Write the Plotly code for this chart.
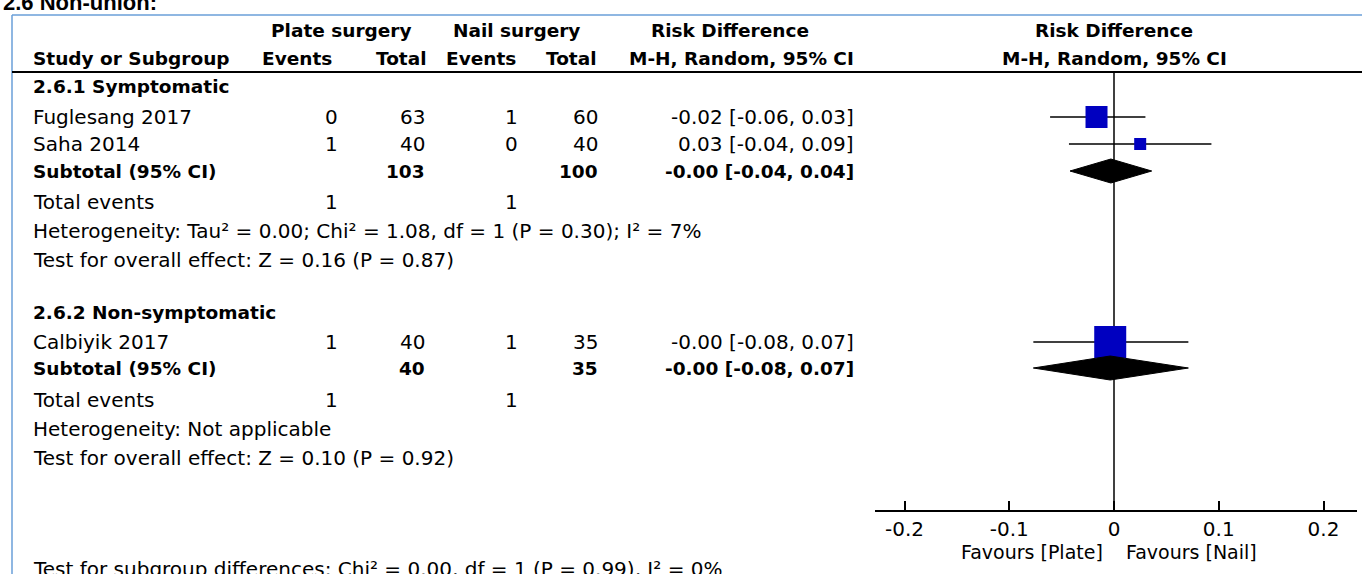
import plotly.graph_objects as go

W, H = 1362, 574

# ---------------- data ----------------
studies = ["Fuglesang 2017", "Saha 2014", "Calbiyik 2017"]
plate_events = [0, 1, 1]
plate_total = [63, 40, 40]
nail_events = [1, 0, 1]
nail_total = [60, 40, 35]
rd_est = [-0.0167, 0.025, -0.0036]
rd_lo = [-0.061, -0.043, -0.077]
rd_hi = [0.030, 0.093, 0.071]
rd_labels = ["-0.02 [-0.06, 0.03]", "0.03 [-0.04, 0.09]", "-0.00 [-0.08, 0.07]"]

subgroups = ["2.6.1 Symptomatic", "2.6.2 Non-symptomatic"]
sub_plate_total = [103, 40]
sub_nail_total = [100, 35]
sub_plate_events = [1, 1]
sub_nail_events = [1, 1]
sub_est = [-0.003, -0.0036]
sub_lo = [-0.042, -0.077]
sub_hi = [0.036, 0.071]
sub_labels = ["-0.00 [-0.04, 0.04]", "-0.00 [-0.08, 0.07]"]
heterogeneity = [
    "Heterogeneity: Tau² = 0.00; Chi² = 1.08, df = 1 (P = 0.30); I² = 7%",
    "Heterogeneity: Not applicable",
]
overall_effect = [
    "Test for overall effect: Z = 0.16 (P = 0.87)",
    "Test for overall effect: Z = 0.10 (P = 0.92)",
]
subgroup_diff = "Test for subgroup differences: Chi² = 0.00, df = 1 (P = 0.99), I² = 0%"
tick_vals = [-0.2, -0.1, 0, 0.1, 0.2]
tick_text = ["-0.2", "-0.1", "0", "0.1", "0.2"]

# ---------------- layout (pixel positions) ----------------
study_y = [117, 144, 342]
box_sizes = [22, 12, 32]
head_y = [86, 312]
subtotal_y = [171, 368]
totev_y = [202, 400]
het_y = [231, 429]
ovr_y = [260, 458]
diff_y = 569

X_STUDY, X_PE, X_PT, X_NE, X_NT, X_CI = 31, 340, 427, 520, 600, 856
FONT = "DejaVu Sans"
REG, BOLD = 20, 18.5
BLUE = "#0000c0"

ann = []


def txt(x, y, s, anchor="left", size=REG, bold=False, family=FONT):
    ann.append(dict(
        xref="paper", yref="paper", x=x / W, y=1 - y / H,
        text=f"<b>{s}</b>" if bold else s, showarrow=False,
        xanchor=anchor, yanchor="middle",
        font=dict(family=family, size=size, color="black"),
    ))


# title (cropped at top, as in the reference)
txt(1, 3, "2.6 Non-union:", bold=True, size=22, family="Liberation Sans")

# headers
txt(341, 30, "Plate surgery", "center", BOLD, True)
txt(516, 30, "Nail surgery", "center", BOLD, True)
txt(730, 30, "Risk Difference", "center", BOLD, True)
txt(1114, 30, "Risk Difference", "center", BOLD, True)
txt(X_STUDY, 58, "Study or Subgroup", "left", BOLD, True)
txt(334, 58, "Events", "right", BOLD, True)
txt(429, 58, "Total", "right", BOLD, True)
txt(518, 58, "Events", "right", BOLD, True)
txt(599, 58, "Total", "right", BOLD, True)
txt(856, 58, "M-H, Random, 95% CI", "right", BOLD, True)
txt(1114, 58, "M-H, Random, 95% CI", "center", BOLD, True)

# study rows
for i, s in enumerate(studies):
    y = study_y[i]
    txt(X_STUDY, y, s)
    txt(X_PE, y, str(plate_events[i]), "right")
    txt(X_PT, y, str(plate_total[i]), "right")
    txt(X_NE, y, str(nail_events[i]), "right")
    txt(X_NT, y, str(nail_total[i]), "right")
    txt(X_CI, y, rd_labels[i], "right")

# subgroup rows
for g, name in enumerate(subgroups):
    txt(X_STUDY, head_y[g], name, bold=True, size=BOLD)
    y = subtotal_y[g]
    txt(X_STUDY, y, "Subtotal (95% CI)", bold=True, size=BOLD)
    txt(X_PT, y, str(sub_plate_total[g]), "right", BOLD, True)
    txt(X_NT, y, str(sub_nail_total[g]), "right", BOLD, True)
    txt(X_CI, y, sub_labels[g], "right", BOLD, True)
    y = totev_y[g]
    txt(X_STUDY, y, "Total events")
    txt(X_PE, y, str(sub_plate_events[g]), "right")
    txt(X_NE, y, str(sub_nail_events[g]), "right")
    txt(X_STUDY, het_y[g], heterogeneity[g])
    txt(X_STUDY, ovr_y[g], overall_effect[g])

txt(X_STUDY, diff_y, subgroup_diff)

# favours labels
txt(1105, 552, "Favours [Plate]", "right", 19)
txt(1124, 552, "Favours [Nail]", "left", 19)

# ---------------- traces ----------------
fig = go.Figure()

# line of no effect
fig.add_trace(go.Scatter(x=[0, 0], y=[72, 510], mode="lines",
                         line=dict(color="black", width=1.5), hoverinfo="skip"))

# confidence intervals
for i in range(len(studies)):
    fig.add_trace(go.Scatter(x=[rd_lo[i], rd_hi[i]], y=[study_y[i], study_y[i]],
                             mode="lines", line=dict(color="black", width=1.5),
                             hoverinfo="skip"))

# squares
fig.add_trace(go.Scatter(x=rd_est, y=study_y, mode="markers",
                         marker=dict(symbol="square", size=box_sizes, color=BLUE,
                                     opacity=1, line=dict(width=0)),
                         hoverinfo="skip"))

# diamonds
for g in range(len(subgroups)):
    yc = subtotal_y[g]
    fig.add_trace(go.Scatter(
        x=[sub_lo[g], sub_est[g], sub_hi[g], sub_est[g], sub_lo[g]],
        y=[yc, yc - 12, yc, yc + 12, yc],
        mode="lines", fill="toself", fillcolor="black",
        line=dict(color="black", width=1), hoverinfo="skip"))

# ---------------- axes ----------------
PX0 = 1114
SCALE = 1047.5
x_left, x_right = 875, 1357
fig.update_xaxes(
    domain=[x_left / W, x_right / W],
    range=[(x_left - PX0) / SCALE, (x_right - PX0) / SCALE],
    tickvals=tick_vals, ticktext=tick_text,
    ticks="inside", ticklen=9, tickwidth=1.5, tickcolor="black",
    showline=True, linecolor="black", linewidth=1.5,
    showgrid=False, zeroline=False,
    tickfont=dict(family=FONT, size=REG, color="black"),
    ticklabelstandoff=0,
)
fig.update_yaxes(domain=[(H - 510) / H, 1], range=[510, 0], visible=False,
                 showgrid=False, zeroline=False)

shapes = [
    dict(type="line", xref="paper", yref="paper", x0=12 / W, x1=1, y0=1 - 15 / H, y1=1 - 15 / H,
         line=dict(color="#6a9fd8", width=1.5)),
    dict(type="line", xref="paper", yref="paper", x0=12 / W, x1=12 / W, y0=1 - 15 / H, y1=0,
         line=dict(color="#6a9fd8", width=1.5)),
    dict(type="line", xref="paper", yref="paper", x0=12 / W, x1=1, y0=1 - 72 / H, y1=1 - 72 / H,
         line=dict(color="black", width=2)),
]

fig.update_layout(
    width=W, height=H, margin=dict(l=0, r=0, t=0, b=0),
    paper_bgcolor="white", plot_bgcolor="white",
    showlegend=False, annotations=ann, shapes=shapes,
)

fig.write_html("out.html", config={"displayModeBar": False},
               post_script="document.body.style.margin='0px';document.body.style.overflow='hidden';")
